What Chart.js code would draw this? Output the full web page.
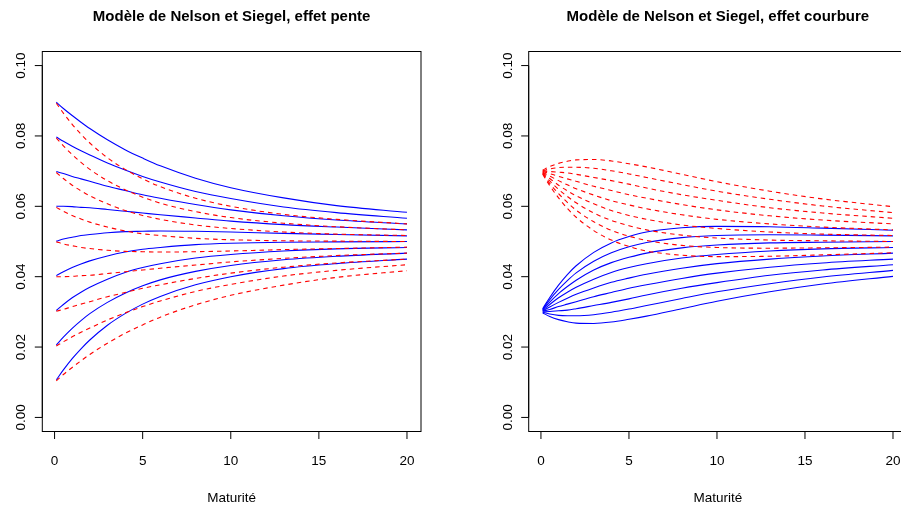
<!DOCTYPE html>
<html lang="fr">
<head>
<meta charset="utf-8">
<title>Modèle de Nelson et Siegel</title>
<script src="https://cdn.jsdelivr.net/npm/chart.js@4.4.1/dist/chart.umd.min.js"></script>
<style>
  html, body { margin: 0; padding: 0; background: #ffffff; overflow: hidden; width: 901px; height: 507px; }
  canvas { position: absolute; top: 0; }
</style>
</head>
<body>
<canvas id="gauche" width="460" height="507" style="left:0"></canvas>
<canvas id="droite" width="460" height="507" style="left:460px"></canvas>
<script>
// Maturités (années) où chaque courbe de taux est tabulée
const maturites = [0.1, 0.5, 1, 1.5, 2, 3, 4, 5, 6, 8, 10, 13, 16, 20];

// Graduations des axes
const ticksX = [0, 5, 10, 15, 20];
const ticksY = [0, 0.02, 0.04, 0.06, 0.08, 0.10];
const labelsY = ['0.00', '0.02', '0.04', '0.06', '0.08', '0.10'];

// Effet pente : taux court de 1 % à 9 %, courbure positive (trait plein)
const penteContinue = [
  [0.0107,0.0135,0.0167,0.0195,0.0220,0.0262,0.0295,0.0322,0.0344,0.0377,0.0400,0.0423,0.0437,0.0450],
  [0.0206,0.0228,0.0253,0.0275,0.0295,0.0327,0.0353,0.0374,0.0391,0.0415,0.0432,0.0448,0.0458,0.0467],
  [0.0304,0.0321,0.0340,0.0356,0.0370,0.0393,0.0412,0.0426,0.0437,0.0453,0.0463,0.0473,0.0479,0.0483],
  [0.0403,0.0414,0.0426,0.0436,0.0445,0.0459,0.0470,0.0478,0.0483,0.0491,0.0495,0.0498,0.0499,0.0500],
  [0.0501,0.0507,0.0512,0.0517,0.0520,0.0525,0.0528,0.0529,0.0530,0.0529,0.0527,0.0523,0.0520,0.0516],
  [0.0600,0.0600,0.0599,0.0597,0.0596,0.0591,0.0586,0.0581,0.0576,0.0567,0.0558,0.0548,0.0541,0.0533],
  [0.0699,0.0693,0.0685,0.0678,0.0671,0.0657,0.0645,0.0633,0.0623,0.0605,0.0590,0.0573,0.0561,0.0550],
  [0.0797,0.0785,0.0771,0.0758,0.0746,0.0723,0.0703,0.0685,0.0669,0.0642,0.0622,0.0598,0.0582,0.0566],
  [0.0896,0.0878,0.0858,0.0839,0.0821,0.0789,0.0761,0.0737,0.0715,0.0680,0.0653,0.0624,0.0602,0.0583]
];

// Effet pente : mêmes taux courts, courbure négative (tirets)
const penteTirets = [
  [0.0104,0.0122,0.0142,0.0161,0.0179,0.0211,0.0239,0.0263,0.0285,0.0320,0.0347,0.0376,0.0398,0.0417],
  [0.0203,0.0215,0.0229,0.0242,0.0254,0.0277,0.0297,0.0315,0.0331,0.0358,0.0378,0.0402,0.0418,0.0434],
  [0.0302,0.0307,0.0315,0.0322,0.0329,0.0343,0.0355,0.0367,0.0377,0.0395,0.0410,0.0427,0.0439,0.0450],
  [0.0400,0.0400,0.0401,0.0403,0.0404,0.0409,0.0414,0.0419,0.0424,0.0433,0.0442,0.0452,0.0460,0.0467],
  [0.0499,0.0493,0.0488,0.0483,0.0480,0.0475,0.0472,0.0471,0.0470,0.0471,0.0473,0.0477,0.0480,0.0484],
  [0.0597,0.0586,0.0574,0.0564,0.0555,0.0541,0.0530,0.0522,0.0517,0.0509,0.0505,0.0502,0.0501,0.0500],
  [0.0696,0.0679,0.0660,0.0644,0.0630,0.0607,0.0588,0.0574,0.0563,0.0547,0.0537,0.0527,0.0521,0.0517],
  [0.0794,0.0772,0.0747,0.0725,0.0705,0.0673,0.0647,0.0626,0.0609,0.0585,0.0568,0.0552,0.0542,0.0533],
  [0.0893,0.0865,0.0833,0.0805,0.0780,0.0738,0.0705,0.0678,0.0656,0.0623,0.0600,0.0577,0.0563,0.0550]
];

// Effet courbure : taux court 3 %, courbure de -4 % à +4 % (trait plein)
const courbureContinue = [
  [0.0297,0.0287,0.0278,0.0272,0.0268,0.0267,0.0271,0.0279,0.0288,0.0309,0.0330,0.0357,0.0379,0.0401],
  [0.0299,0.0294,0.0290,0.0289,0.0289,0.0292,0.0299,0.0308,0.0318,0.0338,0.0357,0.0380,0.0399,0.0418],
  [0.0300,0.0301,0.0303,0.0305,0.0309,0.0318,0.0327,0.0337,0.0348,0.0367,0.0383,0.0404,0.0419,0.0434],
  [0.0302,0.0307,0.0315,0.0322,0.0329,0.0343,0.0355,0.0367,0.0377,0.0395,0.0410,0.0427,0.0439,0.0450],
  [0.0303,0.0314,0.0327,0.0339,0.0350,0.0368,0.0384,0.0396,0.0407,0.0424,0.0437,0.0450,0.0459,0.0467],
  [0.0304,0.0321,0.0340,0.0356,0.0370,0.0393,0.0412,0.0426,0.0437,0.0453,0.0463,0.0473,0.0479,0.0483],
  [0.0306,0.0328,0.0352,0.0372,0.0390,0.0419,0.0440,0.0455,0.0467,0.0482,0.0490,0.0496,0.0498,0.0500],
  [0.0307,0.0335,0.0364,0.0389,0.0411,0.0444,0.0468,0.0485,0.0497,0.0511,0.0517,0.0519,0.0518,0.0516],
  [0.0309,0.0341,0.0376,0.0406,0.0431,0.0469,0.0496,0.0514,0.0527,0.0539,0.0543,0.0542,0.0538,0.0532]
];

// Effet courbure : taux court 7 %, courbure de -4 % à +4 % (tirets)
const courbureTirets = [
  [0.0691,0.0659,0.0624,0.0594,0.0569,0.0531,0.0504,0.0486,0.0473,0.0461,0.0457,0.0458,0.0462,0.0468],
  [0.0693,0.0665,0.0636,0.0611,0.0589,0.0556,0.0532,0.0515,0.0503,0.0489,0.0483,0.0481,0.0482,0.0484],
  [0.0694,0.0672,0.0648,0.0628,0.0610,0.0581,0.0560,0.0545,0.0533,0.0518,0.0510,0.0504,0.0502,0.0500],
  [0.0696,0.0679,0.0660,0.0644,0.0630,0.0607,0.0588,0.0574,0.0563,0.0547,0.0537,0.0527,0.0521,0.0517],
  [0.0697,0.0686,0.0673,0.0661,0.0650,0.0632,0.0616,0.0604,0.0593,0.0576,0.0563,0.0550,0.0541,0.0533],
  [0.0699,0.0693,0.0685,0.0678,0.0671,0.0657,0.0645,0.0633,0.0623,0.0605,0.0590,0.0573,0.0561,0.0550],
  [0.0700,0.0699,0.0697,0.0695,0.0691,0.0682,0.0673,0.0663,0.0652,0.0633,0.0617,0.0596,0.0581,0.0566],
  [0.0701,0.0706,0.0710,0.0711,0.0711,0.0708,0.0701,0.0692,0.0682,0.0662,0.0643,0.0620,0.0601,0.0582],
  [0.0703,0.0713,0.0722,0.0728,0.0732,0.0733,0.0729,0.0721,0.0712,0.0691,0.0670,0.0643,0.0621,0.0599]
];

const BLEU = '#0000ff';
const ROUGE = '#ff0000';
const POLICE = '"Liberation Sans", Arial, Helvetica, sans-serif';

// Cadre, graduations et textes dessinés à la manière d'un graphique R de base
const cadreR = {
  id: 'cadreR',
  afterDraw(chart, args, opts) {
    const { ctx, chartArea: a, scales: { x, y } } = chart;
    ctx.save();
    ctx.strokeStyle = '#000';
    ctx.lineWidth = 1;
    ctx.strokeRect(a.left, a.top, a.right - a.left, a.bottom - a.top);

    // axes (du premier au dernier repère) et petits traits de graduation
    ctx.beginPath();
    ctx.moveTo(x.getPixelForValue(ticksX[0]), a.bottom);
    ctx.lineTo(x.getPixelForValue(ticksX[ticksX.length - 1]), a.bottom);
    ctx.moveTo(a.left, y.getPixelForValue(ticksY[0]));
    ctx.lineTo(a.left, y.getPixelForValue(ticksY[ticksY.length - 1]));
    ticksX.forEach(v => {
      const px = x.getPixelForValue(v);
      ctx.moveTo(px, a.bottom);
      ctx.lineTo(px, a.bottom + 7.5);
    });
    ticksY.forEach(v => {
      const py = y.getPixelForValue(v);
      ctx.moveTo(a.left, py);
      ctx.lineTo(a.left - 7.5, py);
    });
    ctx.stroke();

    ctx.fillStyle = '#000';
    ctx.font = '13.5px ' + POLICE;
    ctx.textAlign = 'center';
    ctx.textBaseline = 'alphabetic';
    ticksX.forEach(v => ctx.fillText(String(v), x.getPixelForValue(v), a.bottom + 33.5));
    ticksY.forEach((v, i) => {
      ctx.save();
      ctx.translate(a.left - 17, y.getPixelForValue(v));
      ctx.rotate(-Math.PI / 2);
      ctx.fillText(labelsY[i], 0, 0);
      ctx.restore();
    });
    const cx = (a.left + a.right) / 2;
    ctx.fillText(opts.axeX, cx, a.bottom + 70);
    ctx.font = 'bold 15px ' + POLICE;
    ctx.fillText(opts.titre, cx, a.top - 31);
    ctx.restore();
  }
};

function series(famille, couleur, tirets, ordre) {
  return famille.map(courbe => ({
    data: maturites.map((m, i) => ({ x: m, y: courbe[i] })),
    borderColor: couleur,
    borderWidth: 1.1,
    borderDash: tirets ? [4.5, 4] : [],
    pointRadius: 0,
    fill: false,
    cubicInterpolationMode: 'monotone',
    order: ordre
  }));
}

function graphique(id, titre, continues, tirets, padding) {
  return new Chart(document.getElementById(id), {
    type: 'line',
    data: {
      datasets: [
        ...series(tirets, ROUGE, true, 0),
        ...series(continues, BLEU, false, 1)
      ]
    },
    options: {
      responsive: false,
      devicePixelRatio: 1,
      animation: false,
      layout: { padding },
      scales: {
        x: { type: 'linear', min: -0.696, max: 20.796, display: false },
        y: { type: 'linear', min: -0.004, max: 0.104, display: false }
      },
      plugins: {
        legend: { display: false },
        tooltip: { enabled: false },
        cadreR: { titre, axeX: 'Maturité' }
      }
    },
    plugins: [cadreR]
  });
}

graphique('gauche', 'Modèle de Nelson et Siegel, effet pente',
  penteContinue, penteTirets,
  { left: 42.3, right: 39, top: 51.5, bottom: 75.5 });

graphique('droite', 'Modèle de Nelson et Siegel, effet courbure',
  courbureContinue, courbureTirets,
  { left: 68.7, right: 13, top: 51.5, bottom: 75.5 });
</script>
</body>
</html>
